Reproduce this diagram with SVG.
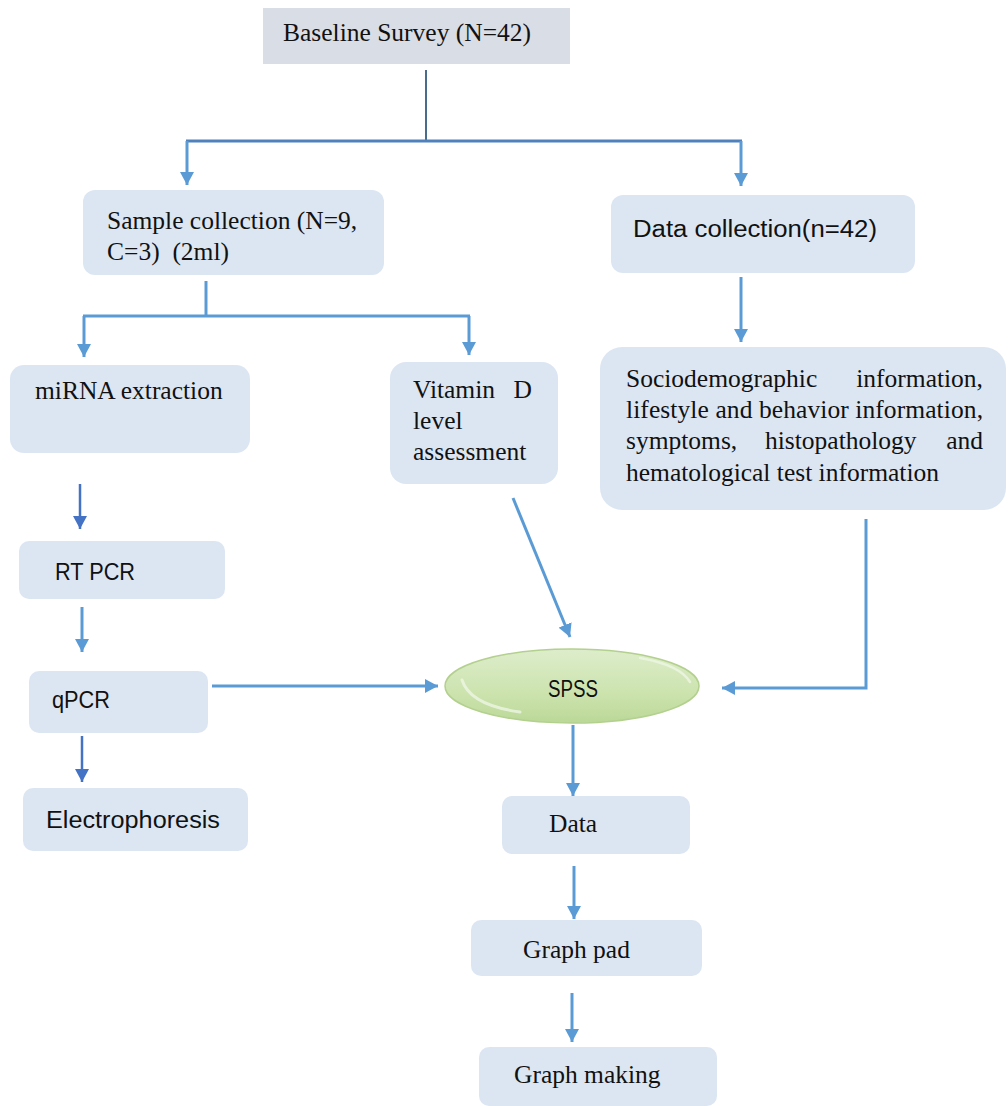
<svg xmlns="http://www.w3.org/2000/svg" width="1008" height="1106" viewBox="0 0 1008 1106">
<style>
.box{fill:#DCE6F2;}
.serif{font-family:"Liberation Serif","Times New Roman",serif;font-size:25.5px;fill:#111;}
.sans{font-family:"Liberation Sans",Arial,sans-serif;font-size:23.5px;fill:#111;}
.conn{fill:none;stroke:#5B9BD5;stroke-width:3;}
.dark{stroke:#4472C4;stroke-width:2.5;}
</style>
<defs>
<marker id="ah" markerUnits="userSpaceOnUse" markerWidth="14" markerHeight="14" refX="13" refY="7" orient="auto">
<path d="M0,0 L13,7 L0,14 z" fill="#5B9BD5"/>
</marker>
<marker id="ahd" markerUnits="userSpaceOnUse" markerWidth="14" markerHeight="14" refX="13" refY="7" orient="auto">
<path d="M0,0 L13,7 L0,14 z" fill="#4472C4"/>
</marker>
<linearGradient id="g" x1="0" y1="0" x2="0" y2="1">
<stop offset="0" stop-color="#DDEDCB"/>
<stop offset="0.6" stop-color="#CCE3AE"/>
<stop offset="1" stop-color="#BBD897"/>
</linearGradient>
</defs>

<g id="connectors">
<line x1="426" y1="70" x2="426" y2="141" stroke="#4A6C8C" stroke-width="2"/>
<line x1="186" y1="141" x2="742" y2="141" stroke="#4F81BD" stroke-width="3"/>
<line class="conn" x1="187" y1="141" x2="187" y2="185" marker-end="url(#ah)"/>
<line class="conn" x1="741" y1="141" x2="741" y2="186" marker-end="url(#ah)"/>
<line class="conn" x1="206" y1="281" x2="206" y2="316"/>
<line class="conn" x1="83" y1="316" x2="470" y2="316"/>
<line class="conn" x1="84" y1="316" x2="84" y2="357" marker-end="url(#ah)"/>
<line class="conn" x1="469" y1="316" x2="469" y2="355" marker-end="url(#ah)"/>
<line class="conn" x1="741" y1="277" x2="741" y2="342" marker-end="url(#ah)"/>
<line class="conn dark" x1="80" y1="484" x2="80" y2="529" marker-end="url(#ahd)"/>
<line class="conn" x1="82" y1="607" x2="82" y2="652" marker-end="url(#ah)"/>
<line class="conn dark" x1="82" y1="736" x2="82" y2="782" marker-end="url(#ahd)"/>
<line class="conn" x1="212" y1="686" x2="438" y2="686" marker-end="url(#ah)"/>
<line class="conn" x1="513" y1="498" x2="570" y2="637" marker-end="url(#ah)"/>
<polyline class="conn" points="866,519 866,688 722,688" marker-end="url(#ah)"/>
<line class="conn" x1="573" y1="725" x2="573" y2="796" marker-end="url(#ah)"/>
<line class="conn" x1="574" y1="866" x2="574" y2="919" marker-end="url(#ah)"/>
<line class="conn" x1="572" y1="993" x2="572" y2="1042" marker-end="url(#ah)"/>
</g>

<g id="baseline">
<rect x="263" y="8" width="307" height="56" fill="#D9DDE6"/>
<text class="serif" x="283" y="41" font-size="24.5">Baseline Survey (N=42)</text>
</g>

<g id="sample">
<rect class="box" x="83" y="190" width="301" height="85" rx="12"/>
<text class="serif" x="107" y="229">Sample collection (N=9,</text>
<text class="serif" x="107" y="260" xml:space="preserve">C=3)  (2ml)</text>
</g>

<g id="datacollection">
<rect class="box" x="611" y="195" width="304" height="78" rx="12"/>
<text class="sans" x="633" y="237" textLength="244" lengthAdjust="spacingAndGlyphs">Data collection(n=42)</text>
</g>

<g id="mirna">
<rect class="box" x="10" y="365" width="240" height="88" rx="14"/>
<text class="serif" x="35" y="399">miRNA extraction</text>
</g>

<g id="vitamin">
<rect class="box" x="390" y="362" width="168" height="122" rx="16"/>
<text class="serif" x="413" y="398">Vitamin</text>
<text class="serif" x="532" y="398" text-anchor="end">D</text>
<text class="serif" x="413" y="429">level</text>
<text class="serif" x="413" y="460">assessment</text>
</g>

<g id="socio">
<rect class="box" x="600" y="347" width="406" height="163" rx="22"/>
<text class="serif" x="626" y="387">Sociodemographic</text>
<text class="serif" x="983" y="387" text-anchor="end">information,</text>
<text class="serif" x="626" y="418" textLength="357" lengthAdjust="spacing">lifestyle and behavior information,</text>
<text class="serif" x="626" y="449">symptoms,</text>
<text class="serif" x="765" y="449">histopathology</text>
<text class="serif" x="983" y="449" text-anchor="end">and</text>
<text class="serif" x="626" y="481">hematological test information</text>
</g>

<g id="rtpcr">
<rect class="box" x="19" y="541" width="206" height="58" rx="10"/>
<text class="sans" x="55" y="580" textLength="80" lengthAdjust="spacingAndGlyphs">RT PCR</text>
</g>

<g id="qpcr">
<rect class="box" x="29" y="671" width="179" height="62" rx="10"/>
<text class="sans" x="52" y="708" font-size="24.5" textLength="58" lengthAdjust="spacingAndGlyphs">qPCR</text>
</g>

<g id="electro">
<rect class="box" x="23" y="788" width="225" height="63" rx="10"/>
<text class="sans" x="46" y="828" textLength="174" lengthAdjust="spacingAndGlyphs">Electrophoresis</text>
</g>

<g id="spss">
<ellipse cx="572" cy="686" rx="127" ry="37" fill="url(#g)" stroke="#B3D08E" stroke-width="1.5"/>
<path d="M462,680 Q470,705 520,712" fill="none" stroke="#EEF6E4" stroke-width="3" stroke-linecap="round" opacity="0.8"/>
<path d="M640,658 Q680,665 690,682" fill="none" stroke="#EEF6E4" stroke-width="2.5" stroke-linecap="round" opacity="0.8"/>
<text class="sans" x="573" y="697" text-anchor="middle" font-size="26" textLength="50" lengthAdjust="spacingAndGlyphs">SPSS</text>
</g>

<g id="data">
<rect class="box" x="502" y="796" width="188" height="58" rx="10"/>
<text class="serif" x="549" y="832" font-size="23">Data</text>
</g>

<g id="graphpad">
<rect class="box" x="471" y="920" width="231" height="56" rx="10"/>
<text class="serif" x="523" y="958">Graph pad</text>
</g>

<g id="graphmaking">
<rect class="box" x="479" y="1047" width="238" height="59" rx="10"/>
<text class="serif" x="514" y="1083">Graph making</text>
</g>
</svg>
